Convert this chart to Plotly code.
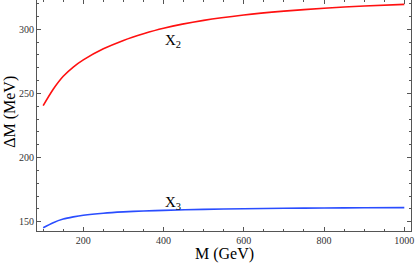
import plotly.graph_objects as go

M_GeV = [100, 125, 150, 175, 200, 250, 300, 350, 400, 500, 600, 700, 800, 900, 1000]
dM_X2 = [240.5, 253.3, 263.4, 270.6, 276.2, 284.8, 291.4, 296.6, 300.9, 307.0, 311.2, 314.2, 316.5, 318.2, 319.5]
dM_X3 = [145.2, 149.2, 152.0, 153.7, 155.0, 156.6, 157.6, 158.3, 158.8, 159.6, 160.1, 160.4, 160.6, 160.8, 160.9]

x_ticks = [200, 400, 600, 800, 1000]
y_ticks = [150, 200, 250, 300]

FONT = "Liberation Serif"

fig = go.Figure()
fig.add_trace(go.Scatter(x=M_GeV, y=dM_X2, mode="lines",
                         line=dict(color="#ff1010", width=1.6, shape="spline", smoothing=0.8),
                         showlegend=False, hoverinfo="skip"))
fig.add_trace(go.Scatter(x=M_GeV, y=dM_X3, mode="lines",
                         line=dict(color="#2a4dff", width=1.6, shape="spline", smoothing=0.8),
                         showlegend=False, hoverinfo="skip"))

fig.add_annotation(x=398, y=290.6, xref="x", yref="y", text="X<sub>2</sub>",
                   showarrow=False, xanchor="left", yanchor="middle",
                   font=dict(family=FONT, size=15, color="black"))
fig.add_annotation(x=398, y=164.2, xref="x", yref="y", text="X<sub>3</sub>",
                   showarrow=False, xanchor="left", yanchor="middle",
                   font=dict(family=FONT, size=15, color="black"))

# axis titles
fig.add_annotation(x=0.501, y=0, xref="paper", yref="paper", text="M (GeV)",
                   showarrow=False, xanchor="center", yanchor="middle", yshift=-22.5,
                   font=dict(family=FONT, size=16, color="black"))
fig.add_annotation(x=0, y=0.516, xref="paper", yref="paper", text="ΔM (MeV)",
                   showarrow=False, xanchor="center", yanchor="middle", xshift=-27,
                   textangle=-90, font=dict(family=FONT, size=16, color="black"))

axis_common = dict(showline=True, linecolor="#555555", linewidth=1, mirror="allticks",
                   ticks="inside", ticklen=4, tickcolor="#555555", tickwidth=1,
                   showgrid=False, zeroline=False, automargin=False,
                   ticklabeloverflow="allow",
                   tickfont=dict(family=FONT, size=10, color="#333333"))

fig.update_xaxes(range=[84.6, 1016.7], tickvals=x_ticks,
                 minor=dict(dtick=50, tick0=0, ticks="inside", ticklen=2, tickcolor="#555555", showgrid=False),
                 **axis_common)
fig.update_yaxes(range=[142.7, 322.9], tickvals=y_ticks,
                 minor=dict(dtick=10, tick0=0, ticks="inside", ticklen=2, tickcolor="#555555", showgrid=False),
                 **axis_common)

fig.update_layout(width=415, height=263, margin=dict(l=37, r=4, t=0, b=32),
                  plot_bgcolor="white", paper_bgcolor="white")

fig.write_html("out.html", config={"displayModeBar": False},
               post_script="document.body.style.margin='0';document.body.style.padding='0';")
